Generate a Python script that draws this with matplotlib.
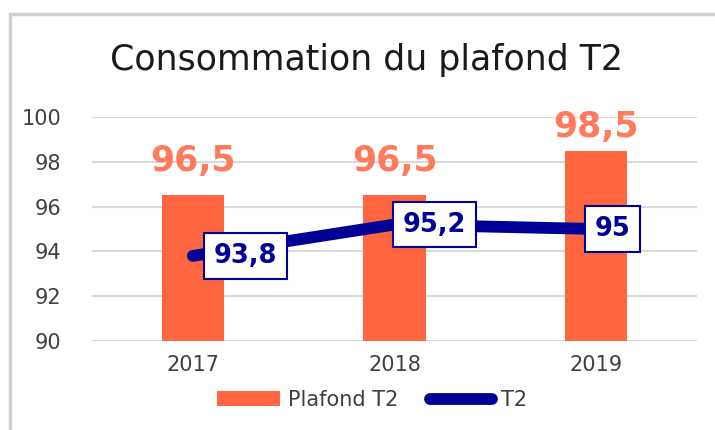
import matplotlib.pyplot as plt
from matplotlib.patches import Rectangle
import numpy as np

# Chart data
years = ['2017', '2018', '2019']
plafond_t2 = [96.5, 96.5, 98.5]
t2 = [93.8, 95.2, 95.0]
plafond_labels = ['96,5', '96,5', '98,5']
t2_labels = ['93,8', '95,2', '95']

bar_color = '#FF6640'
bar_label_color = '#FF7B5C'
navy = '#000096'
text_color = '#404040'

fig = plt.figure(figsize=(7.15, 4.3), dpi=100)
ax = fig.add_axes([92 / 715, 1 - 341 / 430, (697 - 92) / 715, (341 - 117) / 430])

x = np.arange(len(years))

# Bars with their value labels above
bars = ax.bar(x, [v - 90 for v in plafond_t2], bottom=90, width=0.31,
              color=bar_color, zorder=2, label='Plafond T2')
bar_label_dy = [25, 25, 17]
for xi, v, lab, dy in zip(x, plafond_t2, plafond_labels, bar_label_dy):
    ax.annotate(lab, (xi, v), xytext=(0, dy), textcoords='offset points',
                ha='center', va='center', fontsize=25, fontweight='bold',
                color=bar_label_color, annotation_clip=False, zorder=5)

# Line with boxed labels
line, = ax.plot(x, t2, color=navy, lw=8.5, solid_capstyle='round', zorder=3, label='T2')
label_dx = [11, 2, -5]
for xi, v, lab, dx in zip(x, t2, t2_labels, label_dx):
    ax.annotate(lab, (xi, v), xytext=(dx + 4, 0), textcoords='offset points',
                ha='left', va='center', fontsize=18.5, fontweight='bold', color=navy,
                bbox=dict(boxstyle='square,pad=0.38', fc='white', ec=navy, lw=1.5),
                zorder=6)

ax.set_xlim(-0.5, 2.5)
ax.set_ylim(90, 100)
ax.set_yticks(range(90, 101, 2))
ax.set_xticks(x)
ax.set_xticklabels(years)
ax.tick_params(length=0, labelsize=15, colors=text_color, pad=10)
ax.tick_params(axis='y', pad=22)
ax.grid(axis='y', color='#d9d9d9', lw=1.5, zorder=0)
ax.set_axisbelow(True)
for s in ax.spines.values():
    s.set_visible(False)

fig.text(366 / 715, 1 - 60 / 430, 'Consommation du plafond T2', ha='center',
         va='center', fontsize=25, color='#1a1a1a')

fig.legend([bars, line], ['Plafond T2', 'T2'], loc='center',
           bbox_to_anchor=(372 / 715, 1 - 400 / 430), ncol=2,
           frameon=False, fontsize=15, handlelength=3, handleheight=0.7,
           columnspacing=1.5, handletextpad=0.4, labelcolor=text_color)

# Outer chart frame (left and top edges visible)
fig.patches.append(Rectangle((10 / 715, -0.2), 1.2, 1.2 - 14 / 430,
                             transform=fig.transFigure, fill=False,
                             ec='#d0d0d0', lw=2.5))

fig.savefig('out.png', dpi=100)
